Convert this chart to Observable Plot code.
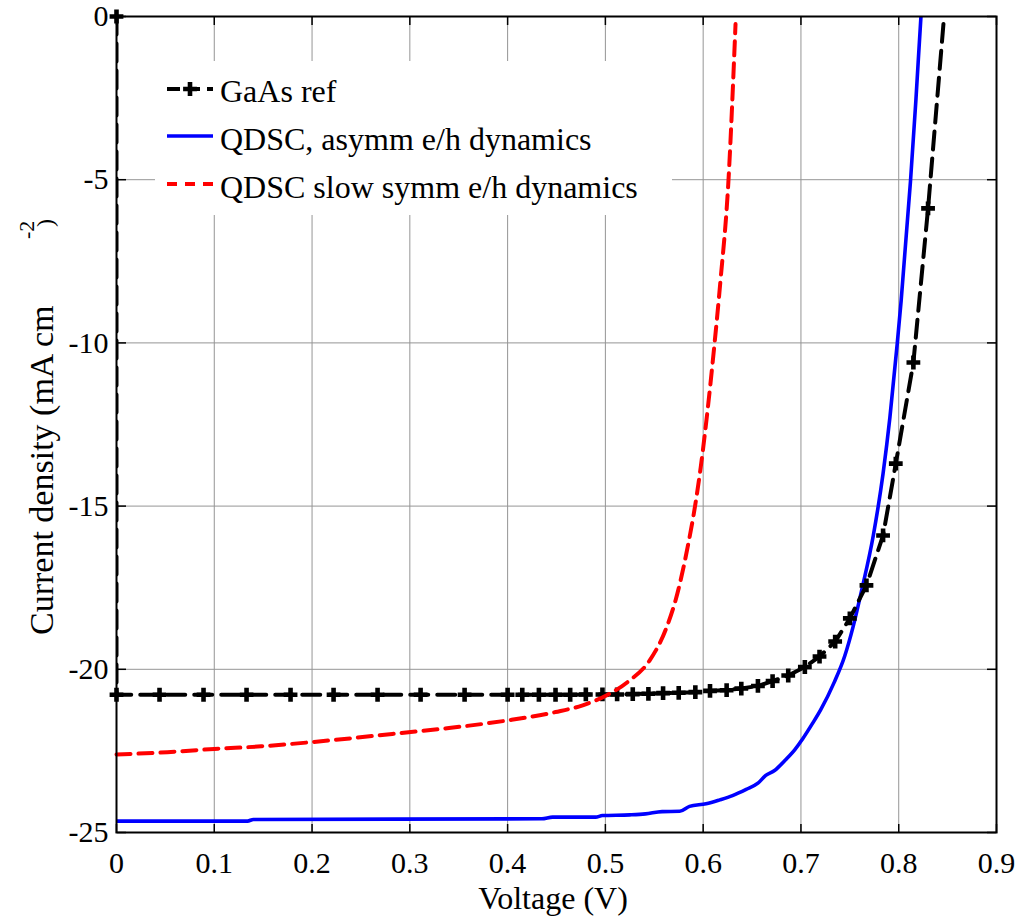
<!DOCTYPE html>
<html><head><meta charset="utf-8">
<script src="https://cdn.jsdelivr.net/npm/d3@7"></script>
<script src="https://cdn.jsdelivr.net/npm/@observablehq/plot@0.6"></script>
<style>
body{margin:0;background:#fff;}
#wrap{position:relative;width:1019px;height:917px;}
</style></head><body><div id="wrap"></div>
<script>
// ---- data ----
const seriesNames = ["GaAs ref", "QDSC, asymm e/h dynamics", "QDSC slow symm e/h dynamics"];

const gaasV = [0, 0, 0.044, 0.089, 0.133, 0.178, 0.222, 0.267, 0.311, 0.356,
  0.400, 0.415, 0.432, 0.449, 0.464, 0.480, 0.497, 0.512, 0.528, 0.544,
  0.559, 0.575, 0.592, 0.607, 0.624, 0.639, 0.656, 0.671, 0.687, 0.704,
  0.719, 0.735, 0.750, 0.767, 0.784, 0.797, 0.815, 0.830, 0.850];
const gaasJ = [0, -20.78, -20.78, -20.78, -20.78, -20.78, -20.78, -20.78, -20.78, -20.78,
  -20.78, -20.78, -20.78, -20.78, -20.78, -20.77, -20.77, -20.77, -20.76, -20.75,
  -20.73, -20.72, -20.70, -20.66, -20.64, -20.59, -20.51, -20.36, -20.19, -19.93,
  -19.61, -19.15, -18.44, -17.43, -15.90, -13.70, -10.60, -5.88, 1.3];

const asymV = [0, 0.134, 0.140, 0.435, 0.446, 0.490, 0.497, 0.525, 0.541, 0.558,
  0.576, 0.586, 0.603, 0.617, 0.630, 0.644, 0.656, 0.664, 0.673, 0.684,
  0.694, 0.702, 0.712, 0.720, 0.734, 0.7447, 0.7533, 0.762, 0.774, 0.784,
  0.791, 0.7985, 0.8025, 0.812, 0.8175, 0.8227, 0.825];
const asymJ = [-24.65, -24.65, -24.60, -24.58, -24.53, -24.53, -24.48, -24.46, -24.43, -24.36,
  -24.35, -24.20, -24.12, -24.00, -23.87, -23.68, -23.49, -23.25, -23.10, -22.78,
  -22.45, -22.12, -21.65, -21.25, -20.40, -19.60, -18.70, -17.59, -15.90, -14.00,
  -12.28, -10.02, -8.70, -5.06, -2.59, -0.02, 1.0];

const symV = [0, 0.052, 0.100, 0.148, 0.200, 0.241, 0.282, 0.340, 0.399, 0.449,
  0.476, 0.501, 0.524, 0.545, 0.562, 0.572, 0.5841, 0.5917, 0.5975, 0.6041,
  0.6117, 0.6174, 0.6258, 0.6331];
const symJ = [-22.61, -22.54, -22.44, -22.36, -22.23, -22.11, -21.98, -21.80, -21.57, -21.31,
  -21.11, -20.80, -20.36, -19.74, -18.76, -17.86, -16.26, -15.00, -13.81, -12.17,
  -10.00, -8.19, -5.06, -0.23];

const xTicks = [0, 0.1, 0.2, 0.3, 0.4, 0.5, 0.6, 0.7, 0.8, 0.9];
const xTickLabels = ["0", "0.1", "0.2", "0.3", "0.4", "0.5", "0.6", "0.7", "0.8", "0.9"];
const yTicks = [0, -5, -10, -15, -20, -25];
const yTickLabels = ["0", "-5", "-10", "-15", "-20", "-25"];
const xLabel = "Voltage (V)";
const yLabelMain = "Current density (mA cm";
const yLabelSup = "-2";
const yLabelEnd = ")";

// ---- tables ----
const gaas = gaasV.map((v, i) => ({V: v, J: gaasJ[i]}));
const asym = asymV.map((v, i) => ({V: v, J: asymJ[i]}));
const sym = symV.map((v, i) => ({V: v, J: symJ[i]}));

const font = "Liberation Serif";
const markerR = 5.8;

const chart = Plot.plot({
  width: 1019,
  height: 917,
  marginLeft: 116,
  marginRight: 23,
  marginTop: 16,
  marginBottom: 85,
  style: {fontFamily: font, fontSize: "30px", color: "black", background: "white"},
  x: {domain: [0, 0.9]},
  y: {domain: [-25, 0]},
  marks: [
    Plot.gridX(xTicks, {stroke: "#959595", strokeOpacity: 1, strokeWidth: 1}),
    Plot.gridY(yTicks, {stroke: "#959595", strokeOpacity: 1, strokeWidth: 1}),
    Plot.line(asym, {x: "V", y: "J", stroke: "#0000ff", strokeWidth: 3.6, curve: "monotone-x", clip: true}),
    Plot.line(gaas, {x: "V", y: "J", stroke: "black", strokeWidth: 4, strokeDasharray: "18,9", clip: true}),
    Plot.dot(gaas.filter(d => d.J <= 0), {x: "V", y: "J", symbol: "cross", r: markerR, fill: "black", stroke: null}),
    Plot.line(sym, {x: "V", y: "J", stroke: "#ff0000", strokeWidth: 4, strokeDasharray: "14,8", curve: "monotone-x"}),
    Plot.frame({stroke: "black", strokeWidth: 2}),
    // tick labels
    Plot.axisX(xTicks, {anchor: "bottom", tickSize: 0, tickPadding: 19, tickFormat: (d, i) => xTickLabels[i], label: null, fontFamily: font, fontSize: 30, fill: "black"}),
    Plot.axisY(yTicks, {anchor: "left", tickSize: 0, tickPadding: 8, tickFormat: (d, i) => yTickLabels[i], label: null, fontFamily: font, fontSize: 30, fill: "black"}),
    // inward ticks on all four sides
    Plot.axisX(xTicks, {anchor: "top", frameAnchor: "bottom", tickSize: 9, strokeWidth: 1.5, tickFormat: () => "", label: null}),
    Plot.axisX(xTicks, {anchor: "bottom", frameAnchor: "top", tickSize: 9, strokeWidth: 1.5, tickFormat: () => "", label: null}),
    Plot.axisY(yTicks, {anchor: "right", frameAnchor: "left", tickSize: 9, strokeWidth: 1.5, tickFormat: () => "", label: null}),
    Plot.axisY(yTicks, {anchor: "left", frameAnchor: "right", tickSize: 9, strokeWidth: 1.5, tickFormat: () => "", label: null})
  ]
});

document.getElementById("wrap").appendChild(chart);

const svg = d3.select(chart);

// axis titles
svg.append("text")
  .attr("x", 553).attr("y", 909)
  .attr("text-anchor", "middle")
  .attr("font-family", font).attr("font-size", 32).attr("fill", "black")
  .text(xLabel);

const yl = svg.append("text")
  .attr("transform", "rotate(-90)")
  .attr("text-anchor", "start")
  .attr("font-family", font).attr("font-size", 34).attr("fill", "black");
yl.append("tspan").attr("x", -635).attr("y", 53).text(yLabelMain);
yl.append("tspan").attr("x", -239).attr("y", 34).attr("font-size", 22).text(yLabelSup);
yl.append("tspan").attr("x", -227).attr("y", 53).attr("font-size", 24).text(yLabelEnd);

// legend
const lg = svg.append("g");
lg.append("rect").attr("x", 155).attr("y", 61).attr("width", 517).attr("height", 154).attr("fill", "white");
const rows = [
  {name: seriesNames[0], y: 89, base: 102, stroke: "black", dash: "13,7", w: 4, marker: true},
  {name: seriesNames[1], y: 136, base: 150, stroke: "#0000ff", dash: null, w: 3.6, marker: false},
  {name: seriesNames[2], y: 184, base: 198, stroke: "#ff0000", dash: "10,8", w: 4, marker: false}
];
rows.forEach(r => {
  const ln = lg.append("line").attr("x1", 167).attr("x2", 213).attr("y1", r.y).attr("y2", r.y)
    .attr("stroke", r.stroke).attr("stroke-width", r.w);
  if (r.dash) ln.attr("stroke-dasharray", r.dash);
  if (r.marker) {
    lg.append("path").attr("d", d3.symbol(d3.symbolCross, markerR * markerR * Math.PI)())
      .attr("transform", `translate(190,${r.y})`).attr("fill", "black");
  }
  lg.append("text").attr("x", 220).attr("y", r.base)
    .attr("text-anchor", "start")
    .attr("font-family", font).attr("font-size", 32).attr("fill", "black")
    .text(r.name);
});
</script>
</body></html>
